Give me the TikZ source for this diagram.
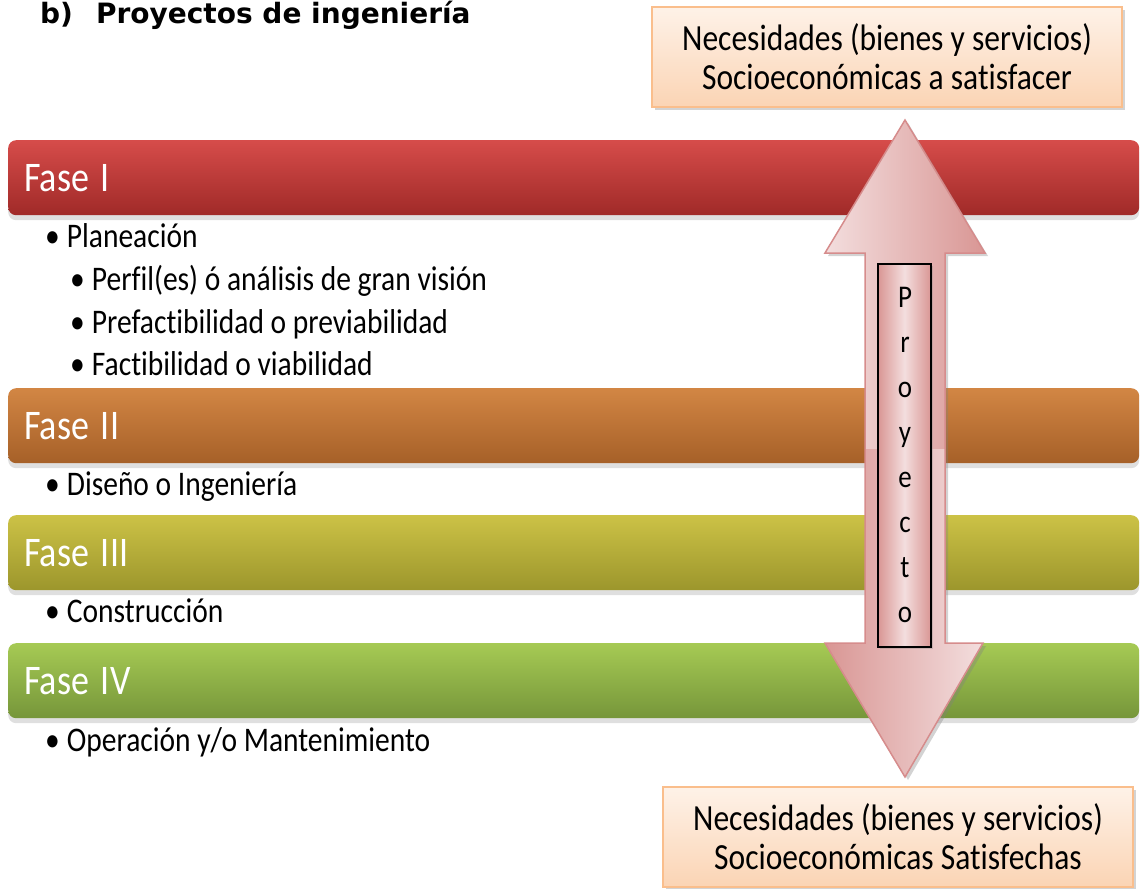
\documentclass[tikz,border=0pt]{standalone}
\usepackage{fontspec}
\usepackage{graphicx}
\setmainfont{Carlito}[Ligatures = NoCommon]
\newfontfamily\titlefont{DejaVu Sans}
\usetikzlibrary{shadows}

\definecolor{redtop}{RGB}{214,76,74}
\definecolor{redbot}{RGB}{160,42,40}
\definecolor{orgtop}{RGB}{210,134,68}
\definecolor{orgbot}{RGB}{166,96,40}
\definecolor{yeltop}{RGB}{204,194,70}
\definecolor{yelbot}{RGB}{156,150,44}
\definecolor{grntop}{RGB}{166,202,84}
\definecolor{grnbot}{RGB}{118,150,58}
\definecolor{boxtop}{RGB}{254,242,232}
\definecolor{boxbot}{RGB}{251,212,180}
\definecolor{boxline}{RGB}{250,190,140}
\definecolor{pinklight}{RGB}{243,222,222}
\definecolor{pinkdark}{RGB}{217,150,148}
\definecolor{pinkline}{RGB}{214,140,140}

\newcommand{\tall}[1]{\scalebox{1}[1.17]{#1}}

\begin{document}
\begin{tikzpicture}[x = 1pt, y = -1pt,
    bar/.style = {rectangle, rounded corners = 8pt, anchor = north west,
                  minimum width = 1131pt, minimum height = 75pt,
                  text width = 1099pt, inner xsep = 16pt, align = left,
                  text = white, font = \fontsize{36}{40}\selectfont,
                  drop shadow = {shadow xshift = 0pt, shadow yshift = -5pt, opacity = 0.25}},
    item/.style = {anchor = base west, inner sep = 0pt, font = \fontsize{29.5}{34}\selectfont},
    necbox/.style = {rectangle, draw = boxline, line width = 1.5pt, top color = boxtop, bottom color = boxbot,
                     minimum width = 470pt, minimum height = 100pt, align = center,
                     font = \fontsize{31.5}{39}\selectfont,
                     drop shadow = {shadow xshift = 3pt, shadow yshift = -3pt, opacity = 0.35}},
    letter/.style = {anchor = base, inner sep = 0pt, font = \fontsize{27}{30}\selectfont}]
  \useasboundingbox (0, 0) rectangle (1141, 889);

  % title
  \node [anchor = base west, inner sep = 0pt, font = \titlefont\bfseries\fontsize{28}{30}\selectfont]
        (title) at (40, 23) {b)\hspace{23pt}Proyectos de ingeniería};

  % phase bars
  \node [bar, top color = redtop, bottom color = redbot] (fase1) at (8, 140) {\tall{Fase I}};
  \node [bar, top color = orgtop, bottom color = orgbot] (fase2) at (8, 388) {\tall{Fase II}};
  \node [bar, top color = yeltop, bottom color = yelbot] (fase3) at (8, 515) {\tall{Fase III}};
  \node [bar, top color = grntop, bottom color = grnbot] (fase4) at (8, 643) {\tall{Fase IV}};

  % items
  \node [item] (plan) at (45, 247) {\tall{•\hspace{7pt}Planeación}};
  \node [item] (perfil) at (70, 290) {\tall{•\hspace{7pt}Perfil(es) ó análisis de gran visión}};
  \node [item] (prefac) at (70, 333) {\tall{•\hspace{7pt}Prefactibilidad o previabilidad}};
  \node [item] (factib) at (70, 375) {\tall{•\hspace{7pt}Factibilidad o viabilidad}};
  \node [item] (diseno) at (45, 495) {\tall{•\hspace{7pt}Diseño o Ingeniería}};
  \node [item] (constr) at (45, 622) {\tall{•\hspace{7pt}Construcción}};
  \node [item] (operac) at (45, 751) {\tall{•\hspace{7pt}Operación y/o Mantenimiento}};

  % needs boxes
  \node [necbox] (needtop) at (887, 57)
        {\tall{Necesidades (bienes y servicios)}\\\tall{Socioeconómicas a satisfacer}};
  \node [necbox] (needbot) at (898, 837)
        {\tall{Necesidades (bienes y servicios)}\\\tall{Socioeconómicas Satisfechas}};

  % double arrow
  \coordinate (tipu) at (905, 120);
  \coordinate (tipd) at (905, 777);
  \fill [gray, opacity = 0.35] ([shift = {(3, 3)}]tipu) -- ++(80, 133) -- ++(-40, 0) -- ++(0, 390)
        -- ++(38, 0) -- ([shift = {(3, 3)}]tipd) -- ++(-80, -134) -- ++(40, 0) -- ++(0, -390)
        -- ++(-40, 0) -- cycle;
  \fill [left color = pinklight, right color = pinkdark] (tipu) -- (985, 253) -- (945, 253) -- (945, 450)
        -- (865, 450) -- (865, 253) -- (825, 253) -- cycle;
  \fill [left color = pinkdark, right color = pinklight] (865, 449) -- (945, 449) -- (945, 643) -- (983, 643)
        -- (tipd) -- (825, 643) -- (865, 643) -- cycle;
  \draw [pinkline, line width = 1.5pt, line join = miter] (tipu) -- (985, 253) -- (945, 253) -- (945, 643)
        -- (983, 643) -- (tipd) -- (825, 643) -- (865, 643) -- (865, 253) -- (825, 253) -- cycle;

  % project label
  \node [draw = black, line width = 2pt, rectangle, left color = pinkdark, right color = pinkdark,
         middle color = pinklight, minimum width = 53pt, minimum height = 383pt,
         drop shadow = {shadow xshift = 2pt, shadow yshift = -2pt, opacity = 0.3}]
        (proy) at (904.5, 455.5) {};
  \foreach \l [count = \i] in {P, r, o, y, e, c, t, o}
    \node [letter] (p\i) at (905, 262 + 45 * \i) {\tall{\l}};
\end{tikzpicture}
\end{document}
